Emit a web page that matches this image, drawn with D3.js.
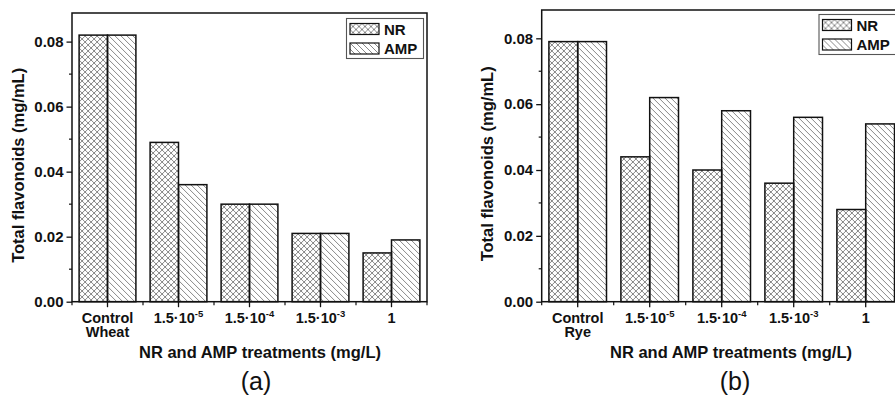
<!DOCTYPE html>
<html>
<head>
<meta charset="utf-8">
<script src="https://cdn.jsdelivr.net/npm/d3@7"></script>
<style>
  body { margin: 0; background: #fff; }
  text { font-family: "Liberation Sans", Arial, sans-serif; fill: #111; }
</style>
</head>
<body>
<div id="container"></div>
<script>
// data
const doses = ["Control", "1.5·10", "1.5·10", "1.5·10", "1"];
const doseExp = ["", "-5", "-4", "-3", ""];
const seriesNames = ["NR", "AMP"];
const wheatNR = [0.082, 0.049, 0.030, 0.021, 0.015];
const wheatAMP = [0.082, 0.036, 0.030, 0.021, 0.019];
const ryeNR = [0.079, 0.044, 0.040, 0.036, 0.028];
const ryeAMP = [0.079, 0.062, 0.058, 0.056, 0.054];
const yTicks = [0, 0.02, 0.04, 0.06, 0.08];
const yMinor = [0.01, 0.03, 0.05, 0.07];

const width = 895, height = 396;

const svg = d3.select("#container").append("svg")
  .attr("width", width).attr("height", height);

// hatch patterns
const defs = svg.append("defs");
const cross = defs.append("pattern").attr("id", "cross")
  .attr("patternUnits", "userSpaceOnUse").attr("width", 6).attr("height", 6);
cross.append("path").attr("d", "M0,0L6,6M6,0L0,6")
  .attr("stroke", "#7a7a7a").attr("stroke-width", 0.9);
const diag = defs.append("pattern").attr("id", "diag")
  .attr("patternUnits", "userSpaceOnUse").attr("width", 6).attr("height", 6);
diag.append("path").attr("d", "M0,0L6,6M-3,3L0,6M6,0L9,3")
  .attr("stroke", "#7a7a7a").attr("stroke-width", 0.9);

const fills = ["url(#cross)", "url(#diag)"];

function drawPanel(p) {
  const g = svg.append("g");
  const x = d3.scaleBand().domain(d3.range(doses.length))
    .range([p.left, p.right]).paddingInner(0.2).paddingOuter(0.1);
  const xs = d3.scaleBand().domain([0, 1]).range([0, x.bandwidth()]);
  const y = d3.scaleLinear().domain([0, p.ymax]).range([p.bottom, p.top]);

  // bars
  const rows = doses.map((d, i) => [p.nr[i], p.amp[i]]);
  const grp = g.selectAll("g.grp").data(rows).join("g")
    .attr("transform", (d, i) => `translate(${x(i)},0)`);
  grp.selectAll("rect").data(d => d).join("rect")
    .attr("x", (d, j) => xs(j))
    .attr("y", d => y(d))
    .attr("width", xs.bandwidth())
    .attr("height", d => y(0) - y(d))
    .attr("fill", (d, j) => fills[j])
    .attr("stroke", "#111").attr("stroke-width", 1.5);

  // frame
  g.append("rect").attr("x", p.left).attr("y", p.top)
    .attr("width", p.right - p.left).attr("height", p.bottom - p.top)
    .attr("fill", "none").attr("stroke", "#111").attr("stroke-width", 1.5);

  // y axis
  const ya = g.append("g").attr("transform", `translate(${p.left},0)`)
    .call(d3.axisLeft(y).tickValues(yTicks).tickFormat(d3.format(".2f")).tickSize(5.5).tickPadding(3));
  ya.select(".domain").remove();
  ya.selectAll("text").attr("font-size", 15).attr("font-weight", "bold");
  ya.selectAll("line").attr("stroke", "#111").attr("stroke-width", 1.3);
  g.selectAll("line.ymin").data(yMinor).join("line").attr("class", "ymin")
    .attr("x1", p.left - 3).attr("x2", p.left)
    .attr("y1", d => y(d)).attr("y2", d => y(d))
    .attr("stroke", "#111").attr("stroke-width", 1.2);

  // x ticks: major at centres, minor at group borders
  g.selectAll("line.xmaj").data(doses).join("line").attr("class", "xmaj")
    .attr("x1", (d, i) => x(i) + x.bandwidth() / 2).attr("x2", (d, i) => x(i) + x.bandwidth() / 2)
    .attr("y1", p.bottom).attr("y2", p.bottom + 5.5)
    .attr("stroke", "#111").attr("stroke-width", 1.3);
  g.selectAll("line.xmin").data(d3.range(doses.length + 1)).join("line").attr("class", "xmin")
    .attr("x1", i => p.left + i * x.step()).attr("x2", i => p.left + i * x.step())
    .attr("y1", p.bottom).attr("y2", p.bottom + 3.5)
    .attr("stroke", "#111").attr("stroke-width", 1.2);

  // x tick labels
  const lab = g.selectAll("text.xl").data(doses).join("text").attr("class", "xl")
    .attr("x", (d, i) => x(i) + x.bandwidth() / 2)
    .attr("y", p.bottom + 21)
    .attr("text-anchor", "middle")
    .attr("font-size", 14.5).attr("font-weight", "bold");
  lab.each(function(d, i) {
    const t = d3.select(this);
    t.append("tspan").text(d);
    if (doseExp[i]) {
      t.append("tspan").attr("dy", -5.5).attr("font-size", 9.5).text(doseExp[i]);
    }
  });
  // second line under the control label
  g.append("text")
    .attr("x", x(0) + x.bandwidth() / 2).attr("y", p.bottom + 35.5)
    .attr("text-anchor", "middle").attr("font-size", 14.5).attr("font-weight", "bold")
    .text(p.crop);

  // axis titles
  g.append("text")
    .attr("transform", `translate(${p.ytitleX},${(p.top + p.bottom) / 2 + 8}) rotate(-90)`)
    .attr("text-anchor", "middle").attr("font-size", 16.5).attr("font-weight", "bold")
    .text("Total flavonoids (mg/mL)");
  g.append("text").attr("x", p.xtitleX).attr("y", 358)
    .attr("text-anchor", "middle").attr("font-size", 16.5).attr("font-weight", "bold")
    .text("NR and AMP treatments (mg/L)");
  g.append("text").attr("x", p.capX).attr("y", 390)
    .attr("text-anchor", "middle").attr("font-size", 25)
    .text(p.cap);

  // legend
  const lg = g.append("g").attr("transform", `translate(${p.legX},${p.legY})`);
  lg.append("rect").attr("width", 77).attr("height", 40)
    .attr("fill", "#fff").attr("stroke", "#555").attr("stroke-width", 1.1);
  const item = lg.selectAll("g.it").data(seriesNames).join("g")
    .attr("transform", (d, j) => `translate(3.5,${5 + j * 19.5})`);
  item.append("rect").attr("width", 29).attr("height", 11)
    .attr("fill", (d, j) => fills[j]).attr("stroke", "#111").attr("stroke-width", 1.2);
  item.append("text").attr("x", 34).attr("y", 11)
    .attr("font-size", 15).attr("font-weight", "bold").text(d => d);
}

drawPanel({
  left: 72, right: 427, top: 13, bottom: 301.7, ymax: 0.0888,
  nr: wheatNR, amp: wheatAMP, crop: "Wheat", cap: "(a)",
  ytitleX: 24, xtitleX: 260, capX: 256, legX: 346.5, legY: 18.5
});
drawPanel({
  left: 541.7, right: 901.7, top: 10, bottom: 301.7, ymax: 0.0886,
  nr: ryeNR, amp: ryeAMP, crop: "Rye", cap: "(b)",
  ytitleX: 493, xtitleX: 731, capX: 735, legX: 819, legY: 14.5
});
</script>
</body>
</html>
